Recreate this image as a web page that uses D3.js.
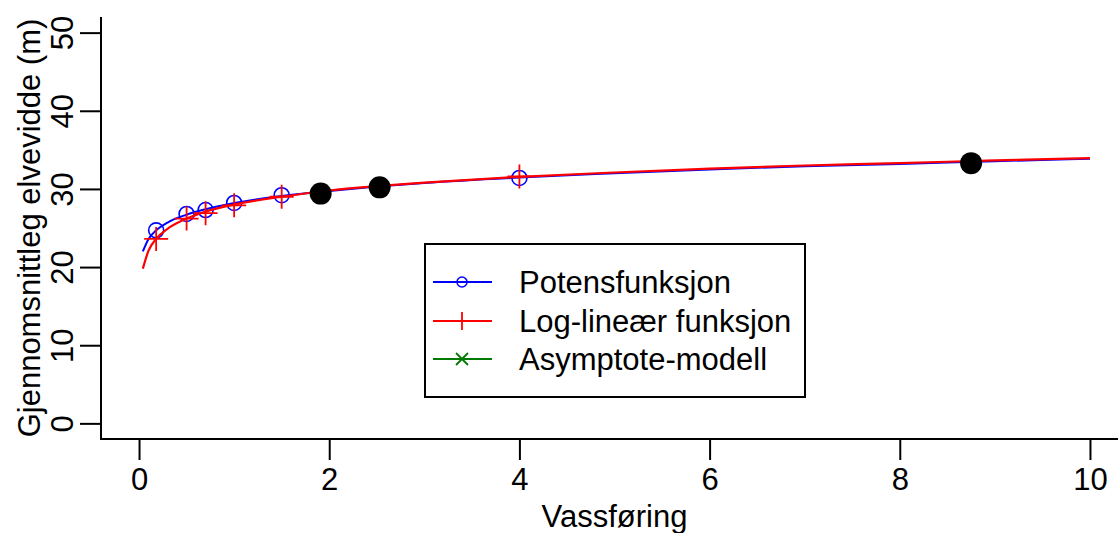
<!DOCTYPE html>
<html>
<head>
<meta charset="utf-8">
<script src="https://cdn.jsdelivr.net/npm/d3@7/dist/d3.min.js"></script>
<style>
  html, body { margin: 0; padding: 0; background: #fff; }
  svg { display: block; font-family: "Liberation Sans", Arial, sans-serif; }
</style>
</head>
<body>
<svg id="chart" width="1118" height="533"></svg>
<script>
// Fitted curves (flow vs. mean river width)
const curveFlow   = [0.04, 0.1, 0.18, 0.3, 0.5, 0.7, 1.0, 1.5, 2.0, 2.5, 3.0, 4.0, 5.0, 6.0, 7.0, 8.0, 9.0, 10.0];
const powerCurve  = [22.0, 23.6, 24.7, 25.7, 26.7, 27.4, 28.2, 29.1, 29.75, 30.3, 30.75, 31.45, 32.0, 32.5, 32.9, 33.2, 33.55, 33.85];
const logCurve    = [19.8, 22.1, 23.6, 24.9, 26.2, 27.1, 28.0, 29.0, 29.8, 30.35, 30.8, 31.55, 32.1, 32.6, 33.0, 33.3, 33.65, 33.95];

// Marker positions along the curves
const markerFlow   = [0.18, 0.5, 0.7, 1.0, 1.5, 4.0];
const powerMarkers = [24.7, 26.8, 27.3, 28.2, 29.2, 31.4];
const logMarkers   = [23.6, 26.2, 26.9, 27.9, 29.0, 31.6];

// Observed points
const obsFlow  = [1.91, 2.53, 8.75];
const obsWidth = [29.4, 30.2, 33.3];

// Axis ticks and labels
const xTicks = [0, 2, 4, 6, 8, 10];
const yTicks = [0, 10, 20, 30, 40, 50];
const xTitle = "Vassføring";
const yTitle = "Gjennomsnittleg elvevidde (m)";
const legendLabels = ["Potensfunksjon", "Log-lineær funksjon", "Asymptote-modell"];
const legendColors = ["#0000ff", "#ff0000", "#007a00"];

const svg = d3.select("#chart");
const FS = 31;

const x = d3.scaleLinear().domain([-0.4, 10.4]).range([101, 1128]);
const y = d3.scaleLinear().domain([-2, 52]).range([439, 17]);

// L-shaped frame
svg.append("path")
  .attr("d", `M${x(-0.4)},${y(52)} V${y(-2)} H${x(10.4)}`)
  .attr("fill", "none").attr("stroke", "#000").attr("stroke-width", 2);

// x axis ticks + labels
const xAxis = svg.append("g").attr("transform", `translate(0,${y(-2)})`)
  .call(d3.axisBottom(x).tickValues(xTicks).tickSize(21).tickPadding(0).tickFormat(d3.format("d")));
xAxis.select(".domain").remove();
xAxis.selectAll("line").attr("stroke", "#000").attr("stroke-width", 2);
xAxis.selectAll("text").attr("font-size", FS).attr("fill", "#000")
  .attr("font-family", "Liberation Sans, Arial, sans-serif")
  .attr("dy", null).attr("y", 51);

// y axis ticks + rotated labels
const yAxis = svg.append("g").attr("transform", `translate(${x(-0.4)},0)`)
  .call(d3.axisLeft(y).tickValues(yTicks).tickSize(21).tickFormat(d3.format("d")));
yAxis.select(".domain").remove();
yAxis.selectAll("line").attr("stroke", "#000").attr("stroke-width", 2);
yAxis.selectAll(".tick text")
  .attr("font-size", FS).attr("fill", "#000")
  .attr("font-family", "Liberation Sans, Arial, sans-serif")
  .attr("x", null).attr("dy", null)
  .attr("text-anchor", "middle")
  .attr("transform", "translate(-28,0) rotate(-90)");

// axis titles
svg.append("text").attr("x", (x(-0.4) + x(10.4)) / 2).attr("y", 527)
  .attr("text-anchor", "middle").attr("font-size", FS).text(xTitle);
svg.append("text")
  .attr("transform", `translate(40,${(y(52) + y(-2)) / 2}) rotate(-90)`)
  .attr("text-anchor", "middle").attr("font-size", FS).text(yTitle);

const line = d3.line().curve(d3.curveMonotoneX);

// power-function curve
svg.append("path")
  .attr("d", line(curveFlow.map((f, i) => [x(f), y(powerCurve[i])])))
  .attr("fill", "none").attr("stroke", "#0000ff").attr("stroke-width", 2);
svg.selectAll("circle.pow").data(markerFlow).join("circle")
  .attr("class", "pow")
  .attr("cx", d => x(d)).attr("cy", (d, i) => y(powerMarkers[i])).attr("r", 7.5)
  .attr("fill", "none").attr("stroke", "#0000ff").attr("stroke-width", 1.6);

// log-linear curve
svg.append("path")
  .attr("d", line(curveFlow.map((f, i) => [x(f), y(logCurve[i])])))
  .attr("fill", "none").attr("stroke", "#ff0000").attr("stroke-width", 2.2);
const plus = (cx, cy, h) => `M${cx - h},${cy} H${cx + h} M${cx},${cy - h} V${cy + h}`;
svg.selectAll("path.loglin").data(markerFlow).join("path")
  .attr("class", "loglin")
  .attr("d", (d, i) => plus(x(d), y(logMarkers[i]), 12))
  .attr("fill", "none").attr("stroke", "#ff0000").attr("stroke-width", 1.8);

// observed points
svg.selectAll("circle.obs").data(obsFlow).join("circle")
  .attr("class", "obs")
  .attr("cx", d => x(d)).attr("cy", (d, i) => y(obsWidth[i])).attr("r", 11)
  .attr("fill", "#000");

// legend
const lg = svg.append("g");
lg.append("rect").attr("x", 425).attr("y", 244).attr("width", 380).attr("height", 153)
  .attr("fill", "#fff").attr("stroke", "#000").attr("stroke-width", 2);
const rowY = [282, 321, 359];
legendLabels.forEach((lab, i) => {
  const c = legendColors[i], ry = rowY[i];
  lg.append("line").attr("x1", 433).attr("x2", 492).attr("y1", ry).attr("y2", ry)
    .attr("stroke", c).attr("stroke-width", 2);
  if (i === 0) {
    lg.append("circle").attr("cx", 462).attr("cy", ry).attr("r", 5)
      .attr("fill", "none").attr("stroke", c).attr("stroke-width", 1.5);
  } else if (i === 1) {
    lg.append("path").attr("d", plus(462, ry, 9)).attr("stroke", c).attr("stroke-width", 1.8);
  } else {
    lg.append("path").attr("d", `M456,${ry - 6} L468,${ry + 6} M456,${ry + 6} L468,${ry - 6}`)
      .attr("stroke", c).attr("stroke-width", 1.8);
  }
  lg.append("text").attr("x", 519).attr("y", ry + 11).attr("font-size", FS)
    .attr("fill", "#000").text(lab);
});
</script>
</body>
</html>
